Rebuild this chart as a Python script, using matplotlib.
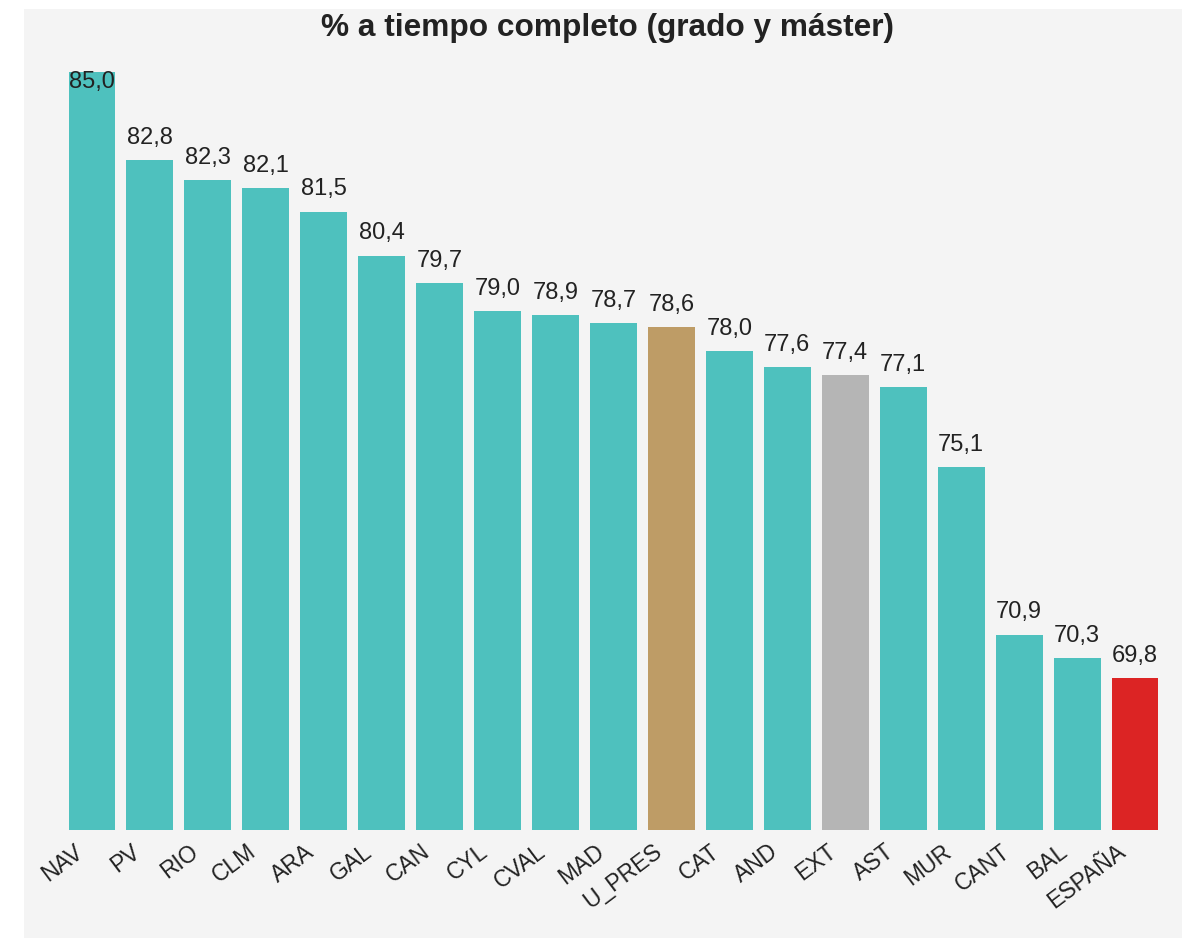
import matplotlib.pyplot as plt
from matplotlib.patches import Rectangle
import matplotlib.transforms as mtransforms

plt.rcParams['font.family'] = ['Liberation Sans', 'DejaVu Sans']

regions = ["NAV", "PV", "RIO", "CLM", "ARA", "GAL", "CAN", "CYL", "CVAL", "MAD",
           "U_PRES", "CAT", "AND", "EXT", "AST", "MUR", "CANT", "BAL", "ESPAÑA"]
values = [85.0, 82.8, 82.3, 82.1, 81.5, 80.4, 79.7, 79.0, 78.9, 78.7,
          78.6, 78.0, 77.6, 77.4, 77.1, 75.1, 70.9, 70.3, 69.8]

TEAL = "#4ec1be"
special = {"U_PRES": "#be9c66", "EXT": "#b5b5b5", "ESPAÑA": "#dc2424"}
colors = [special.get(r, TEAL) for r in regions]

W, H = 1182, 938
fig = plt.figure(figsize=(W / 100, H / 100), dpi=100)
fig.patch.set_facecolor("white")
fig.patches.append(Rectangle((24 / W, 0), 1 - 24 / W, (H - 9) / H,
                             transform=fig.transFigure, facecolor="#f4f4f4",
                             edgecolor="none", zorder=-5))

ax = fig.add_axes([63 / W, 108 / H, (1164 - 63) / W, (830 - 72) / H])
ax.set_facecolor("none")
x = range(len(regions))
ax.bar(x, values, width=0.81, color=colors, zorder=2)
ax.set_xlim(-0.5, len(regions) - 0.5)
ymin, ymax = 66, 85
ax.set_ylim(ymin, ymax)

for i, v in enumerate(values):
    label = f"{v:.1f}".replace(".", ",")
    if v + 0.35 > ymax - 0.4:
        ax.text(i, ymax + 0.02, label, ha="center", va="top", fontsize=17,
                color="#222222", zorder=3)
    else:
        ax.text(i, v + 0.28, label, ha="center", va="bottom", fontsize=17,
                color="#222222", zorder=3)

# category labels, rotated and right-anchored just left of each bar centre
xlab_tf = mtransforms.blended_transform_factory(ax.transData, ax.transAxes)
xlab_tf = xlab_tf + mtransforms.ScaledTranslation(-19 / 100, -10 / 100,
                                                  fig.dpi_scale_trans)
for i, r in enumerate(regions):
    ax.text(i, 0, r, transform=xlab_tf, rotation=37, rotation_mode="anchor",
            ha="right", va="top", fontsize=16.5, color="#222222")

ax.set_xticks([])
ax.set_yticks([])
for s in ax.spines.values():
    s.set_visible(False)

fig.text(608 / W, 1 - 28 / H, "% a tiempo completo (grado y máster)",
         ha="center", va="center", fontsize=22.8, fontweight="bold", color="#222222")

fig.savefig("out.png", dpi=100)
